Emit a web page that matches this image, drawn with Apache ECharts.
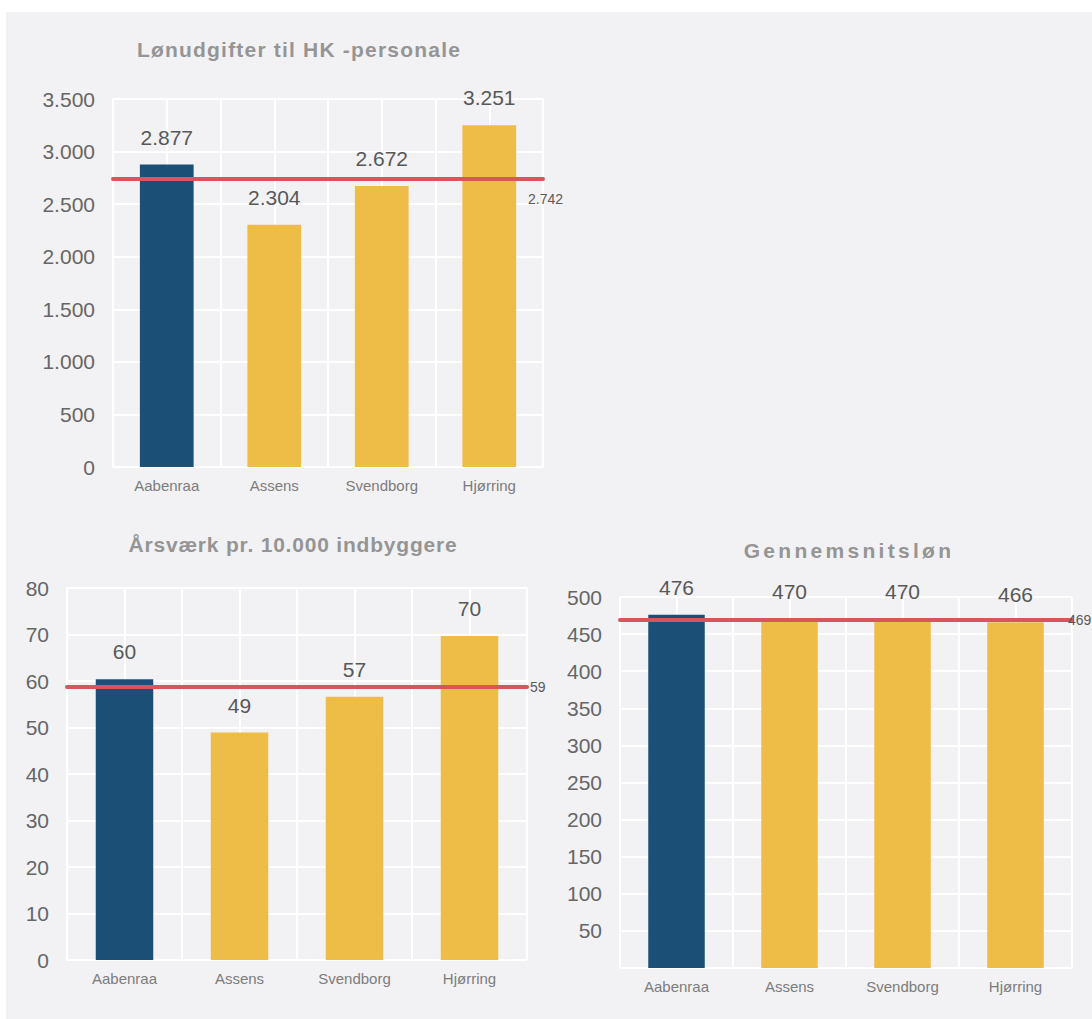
<!DOCTYPE html>
<html><head><meta charset="utf-8">
<script src="https://cdn.jsdelivr.net/npm/echarts@6/dist/echarts.min.js"></script>
<style>
html,body{margin:0;padding:0;background:#fff;}
#panel{position:absolute;left:6px;top:12px;width:1086px;height:1007px;background:#F2F2F4;}
#main{position:absolute;left:0;top:0;width:1092px;height:1019px;}
</style></head><body><div id="panel"></div><div id="main"></div>
<script>
const categories = ['Aabenraa', 'Assens', 'Svendborg', 'Hjørring'];
const lonValues = [2877, 2304, 2672, 3251];
const lonMean = 2742;
const aarsvaerkValues = [60.4, 48.9, 56.6, 69.7];
const aarsvaerkMean = 58.8;
const snitlonValues = [476, 470, 470, 466];
const snitlonMean = 469;
const chartTitles = ['Lønudgifter til HK -personale', 'Årsværk pr. 10.000 indbyggere', 'Gennemsnitsløn'];
const lonTicks = {min: 0, max: 3500, interval: 500};
const aarsvaerkTicks = {min: 0, max: 80, interval: 10};
const snitlonTicks = {min: 0, max: 500, interval: 50};

const FONT = "'Liberation Sans', Arial, sans-serif";
const BLUE = '#1C4F76', YELLOW = '#EEBD48', RED = '#DA545B';
const fmt = n => String(Math.round(n)).replace(/\B(?=(\d{3})+(?!\d))/g, '.');

const grids = [
  {left: 113, top: 99, width: 430, height: 368},
  {left: 67, top: 588, width: 460, height: 372},
  {left: 620, top: 597, width: 452, height: 371}
];
const titlePos = [[299, 39], [293, 534], [849, 540]];
const titleSpacing = [1.2, 0.8, 3.3];
const ticks = [lonTicks, aarsvaerkTicks, snitlonTicks];
const values = [lonValues, aarsvaerkValues, snitlonValues];
const means = [lonMean, aarsvaerkMean, snitlonMean];
const meanLabels = [
  {position: 'insideEndBottom', distance: [-20, 13]},
  {position: 'end', distance: 3},
  {position: 'end', distance: -4}
];

const option = {
  animation: false,
  backgroundColor: 'transparent',
  textStyle: {fontFamily: FONT},
  title: chartTitles.map((t, i) => ({
    text: t, left: titlePos[i][0], top: titlePos[i][1], textAlign: 'center', padding: 0,
    textStyle: {fontFamily: FONT, fontSize: 21, fontWeight: 'bold', color: '#959595'}
  })),
  grid: grids,
  xAxis: [].concat(...grids.map((g, i) => [
    {type: 'category', gridIndex: i, data: categories, boundaryGap: true,
     axisLine: {show: false}, axisTick: {show: false}, splitLine: {show: false},
     axisLabel: {fontFamily: FONT, fontSize: 15, color: '#7c7c7c', margin: 11}},
    {type: 'value', gridIndex: i, min: 0, max: 8, interval: 1, position: 'bottom',
     axisLine: {show: false}, axisTick: {show: false}, axisLabel: {show: false},
     splitLine: {show: true, lineStyle: {color: '#FFFFFF', width: 2}}}
  ])),
  yAxis: grids.map((g, i) => ({
    type: 'value', gridIndex: i, min: ticks[i].min, max: ticks[i].max, interval: ticks[i].interval,
    axisLine: {show: false}, axisTick: {show: false},
    splitLine: {show: true, lineStyle: {color: '#FFFFFF', width: 2}},
    axisLabel: {fontFamily: FONT, fontSize: 21, color: '#666666', margin: 18, padding: [0, 0, 3, 0],
      formatter: v => (i === 2 && v === 0) ? '' : fmt(v)}
  })),
  series: values.map((vals, i) => ({
    type: 'bar', xAxisIndex: i * 2, yAxisIndex: i, data: vals, barWidth: '50%',
    itemStyle: {color: p => p.dataIndex === 0 ? BLUE : YELLOW},
    label: {show: true, position: 'top', distance: 17, fontFamily: FONT, fontSize: 21,
      color: '#585858', formatter: p => fmt(p.value)},
    markLine: {
      silent: true, symbol: 'none', animation: false,
      lineStyle: {color: RED, width: 4, type: 'solid', cap: 'round'},
      label: Object.assign({show: true, fontFamily: FONT, fontSize: 14, color: '#595959',
        formatter: p => fmt(p.value)}, meanLabels[i]),
      data: [{yAxis: means[i]}]
    }
  }))
};
const el = document.getElementById('main');
const chart = echarts.init(el, null, {renderer: 'svg'});
chart.setOption(option);
function applyTitleSpacing() {
  el.querySelectorAll('text').forEach(t => {
    const i = chartTitles.indexOf(t.textContent);
    if (i >= 0) t.setAttribute('letter-spacing', titleSpacing[i]);
  });
}
applyTitleSpacing();
chart.on('finished', applyTitleSpacing);
setTimeout(applyTitleSpacing, 50);
</script></body></html>
